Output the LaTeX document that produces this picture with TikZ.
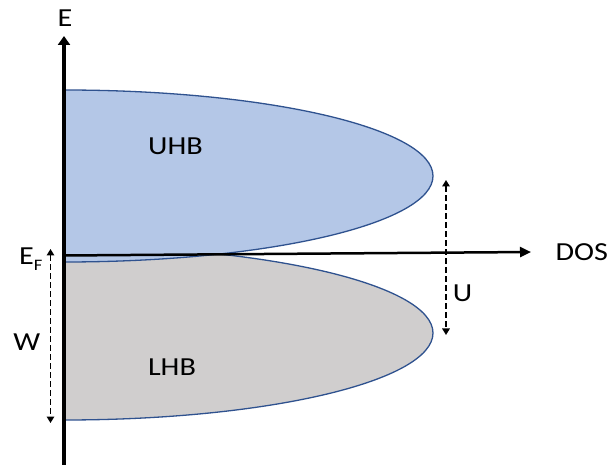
\documentclass[tikz,border=0pt]{standalone}
\usepackage{fontspec}
\newfontfamily\labfont[FakeStretch=1.16]{Carlito}
\usetikzlibrary{arrows.meta}
\definecolor{uhbfill}{HTML}{B4C7E7}
\definecolor{lhbfill}{HTML}{D0CECE}
\definecolor{bandline}{HTML}{2F528F}
\tikzset{
  band/.style={draw=bandline, line width=1.3pt},
  axisv/.style={line width=3.5pt, -{Triangle[width=12pt,length=9pt]}},
  axish/.style={line width=2.5pt, -{Triangle[width=10pt,length=11pt]}},
  dimarrow/.style={line width=1.8pt, dash pattern=on 5.5pt off 3.5pt, {Triangle[width=7.5pt,length=6.5pt]}-{Triangle[width=7.5pt,length=6.5pt]}},
  lab/.style={inner sep=0pt, anchor=base, font=\labfont\fontsize{26}{26}\selectfont}
}
\begin{document}
\begin{tikzpicture}[x=1pt,y=-1pt]
\useasboundingbox (0,0) rectangle (611,465);
% bands
\fill[lhbfill] (64,246) arc[start angle=-90, end angle=90, x radius=369, y radius=87] -- cycle;
\draw[band] (64,246) arc[start angle=-90, end angle=90, x radius=369, y radius=87];
\fill[uhbfill] (64,90) arc[start angle=-90, end angle=90, x radius=369, y radius=86] -- cycle;
\draw[band] (64,90) arc[start angle=-90, end angle=90, x radius=369, y radius=86];
% axes
\coordinate (vbot) at (64,465);
\coordinate (vtop) at (64,36);
\coordinate (hleft) at (64,255.5);
\coordinate (hright) at (531,252);
\draw[axisv] (vbot) -- (vtop);
\draw[axish] (hleft) -- (hright);
% dimension arrows
\coordinate (Ua) at (446,180);
\coordinate (Ub) at (446,335);
\coordinate (Wa) at (50.5,249);
\coordinate (Wb) at (50.5,423);
\draw[dimarrow] (Ua) -- (Ub);
\draw[dimarrow] (Wa) -- (Wb);
% labels
\node[lab] (E) at (65,27) {E};
\node[lab] (DOS) at (581.7,260.5) {DOS};
\node[lab] (UHB) at (175.5,155) {UHB};
\node[lab] (LHB) at (172,375.5) {LHB};
\node[lab] (U) at (462.5,301.5) {U};
\node[lab] (W) at (26.7,351) {W};
\node[lab, anchor=base west] (EF) at (19,265) {E\raisebox{-6pt}{\fontsize{16}{16}\selectfont F}};
\end{tikzpicture}
\end{document}
